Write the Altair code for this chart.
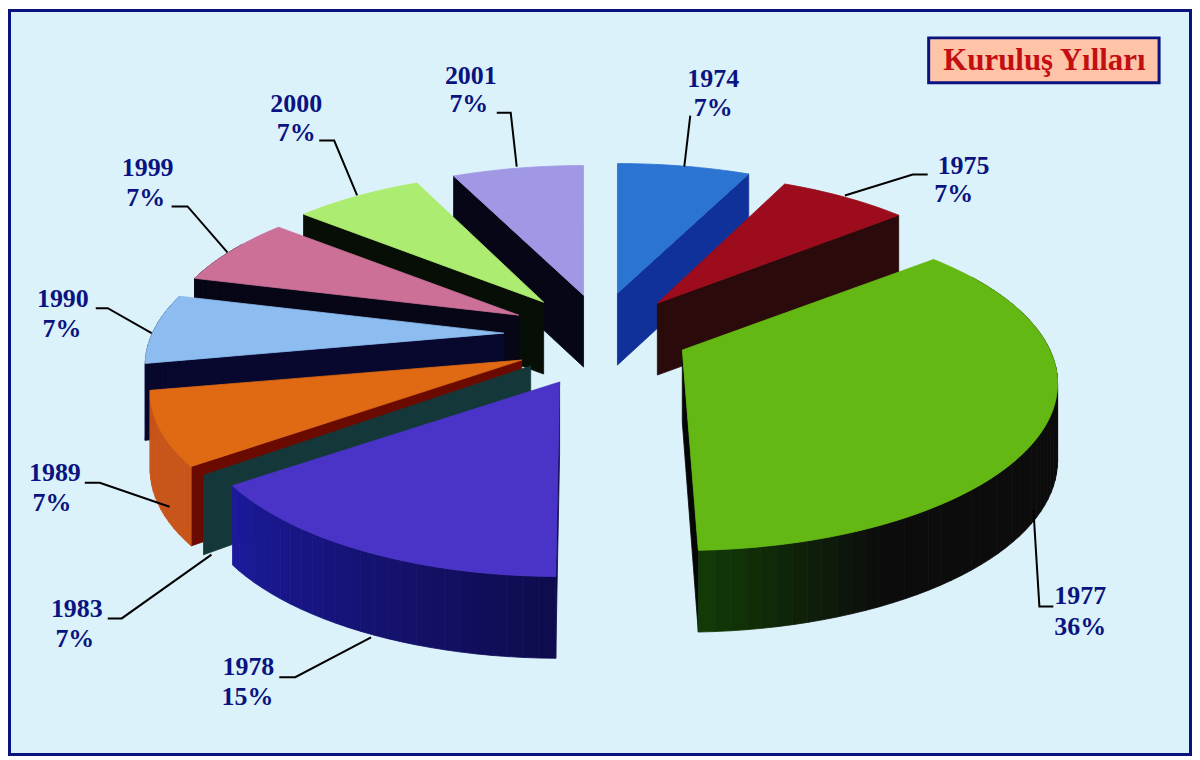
import math
import altair as alt
import pandas as pd

# ---- chart values ----
years = ["1974", "1975", "1977", "1978", "1983", "1989", "1990", "1999", "2000", "2001"]
percent_labels = ["7%", "7%", "36%", "15%", "7%", "7%", "7%", "7%", "7%", "7%"]
# share of the circle each slice really occupies in the picture (1983 is drawn as a sliver)
drawn_shares = [7, 7, 36, 15, 0, 7, 7, 7, 7, 7]

# ---- styles and layout, separate from the data ----
W, H = 1187, 749
top_colors = ["#2b74d2", "#9c0c1c", "#64b814", "#4a34c8", "#14383a",
              "#e06a14", "#8cbcf0", "#cc7098", "#acec70", "#a098e4"]
wall_colors = ["#10309a", "#2a0a0a", "#060606", "#0e0c4a", "#14383a",
               "#6a0a00", "#08082e", "#060616", "#060e06", "#060616"]
rim_start = ["#10309a", "#2a0a0a", "#0c0c0c", "#0e0c4c", "#14383a",
             "#c8561a", "#08082e", "#060616", "#060e06", "#060616"]
rim_end = ["#10309a", "#2a0a0a", "#123d06", "#1c1a9c", "#14383a",
           "#c8561a", "#08082e", "#060616", "#060e06", "#060616"]
apex = {"1974": (619, 293), "1975": (659, 303), "1977": (684, 350), "1978": (561, 382),
        "1983": (532, 366), "1989": (523, 360), "1990": (505, 333), "1999": (520, 315),
        "2000": (545, 302), "2001": (585, 295)}
# small per-slice corrections of the pie's perspective, and of the cut angles
rx_scale = {"1975": 0.97, "1977": 1.01, "1978": 0.98, "1990": 0.965, "1999": 0.965,
            "2000": 0.965, "2001": 0.99}
ry_scale = {"1977": 1.03}
start_shift = {"1978": 0.5, "1983": -2.0, "1989": -1.0}
end_shift = {"1977": -2.0, "1983": -2.0}
draw_order = ["2001", "1974", "1975", "2000", "1999", "1990", "1989", "1983", "1977", "1978"]
RX, RY, TILT = 365.0, 156.0, 0.2

label_place = {"1974": (715, 78, 715, 107), "1975": (966, 165, 956, 194),
               "1977": (1083, 597, 1083, 628), "1978": (249, 668, 248, 698),
               "1983": (77, 610, 75, 640), "1989": (55, 473, 52, 503),
               "1990": (63, 299, 62, 329), "1999": (148, 167, 146, 198),
               "2000": (297, 103, 297, 132), "2001": (472, 75, 470, 103)}
leaders = {"1974": [(692, 115), (686, 166)],
           "1975": [(930, 174), (915, 174), (847, 195)],
           "1977": [(1036, 510), (1042, 607), (1056, 607)],
           "1978": [(280, 678), (296, 678), (372, 638)],
           "1983": [(108, 619), (122, 619), (212, 555)],
           "1989": [(85, 483), (100, 483), (170, 507)],
           "1990": [(96, 308), (108, 308), (152, 333)],
           "1999": [(172, 206), (188, 206), (228, 252)],
           "2000": [(320, 140), (335, 140), (358, 195)],
           "2001": [(498, 112), (512, 112), (518, 166)]}
title_text = "Kuruluş Yılları"


def rim_point(yr, t):
    a = apex[yr]
    s, c = math.sin(math.radians(t)), math.cos(math.radians(t))
    f = 1 + TILT * c
    return (a[0] + RX * rx_scale.get(yr, 1) * s / f,
            a[1] - RY * ry_scale.get(yr, 1) * c / f)


def depth(t):
    return 76 - 6 * math.cos(math.radians(t))


def mix(c1, c2, k):
    p = [int(c1[i:i + 2], 16) for i in (1, 3, 5)]
    q = [int(c2[i:i + 2], 16) for i in (1, 3, 5)]
    return "#%02x%02x%02x" % tuple(round(u + (v - u) * k) for u, v in zip(p, q))


rows = []
poly = [0]


def add(points, fill):
    poly[0] += 1
    for i, (x, y) in enumerate(list(points) + [points[0]]):
        rows.append(dict(poly=poly[0], seq=i, x=x, y=y, fill=fill))


starts = {}
acc = 0.0
for yr, sh in zip(years, drawn_shares):
    starts[yr] = (acc + start_shift.get(yr, 0), acc + sh * 3.6 + end_shift.get(yr, 0))
    acc += sh * 3.6

for yr in draw_order:
    i = years.index(yr)
    a = apex[yr]
    t0, t1 = starts[yr]
    # radial cut face that faces the viewer
    tw = t1 if t1 <= 180 else t0
    r = rim_point(yr, tw)
    add([a, r, (r[0], r[1] + depth(tw)), (a[0], a[1] + 72)], wall_colors[i])
    # outer rim
    lo, hi = max(t0, 60), min(t1, 300)
    n = max(int((hi - lo) / 2), 1)
    if hi > lo:
        for k in range(n):
            ta, tb = lo + (hi - lo) * k / n, lo + (hi - lo) * (k + 1) / n
            pa, pb = rim_point(yr, ta), rim_point(yr, tb)
            frac = (k + 0.5) / n
            if yr == "1977":
                col = rim_start[i] if tb < 155 else mix(rim_start[i], rim_end[i], (tb - 155) / 25)
            else:
                col = mix(rim_start[i], rim_end[i], frac)
            add([pa, pb, (pb[0], pb[1] + depth(tb)), (pa[0], pa[1] + depth(ta))], col)
    # top face
    if t1 > t0:
        n = max(int((t1 - t0) / 1.5), 1)
        add([a] + [rim_point(yr, t0 + (t1 - t0) * k / n) for k in range(n + 1)], top_colors[i])

faces = pd.DataFrame(rows)

xs = alt.Scale(domain=[8, 8 + W], range=[0, W])
ys = alt.Scale(domain=[8, 8 + H], range=[0, H])
X = lambda f="x": alt.X(f"{f}:Q", scale=xs, axis=None)
Y = lambda f="y": alt.Y(f"{f}:Q", scale=ys, axis=None)

frame = alt.Chart(pd.DataFrame([dict(x=9.5, x2=6.5 + W, y=9.5, y2=6.5 + H)])).mark_rect(
    fill="#ffffff", fillOpacity=0, stroke="#0a1480", strokeWidth=3).encode(
    x=X(), x2="x2:Q", y=Y(), y2="y2:Q")

pie = alt.Chart(faces).mark_line(filled=True, strokeWidth=0.8, interpolate="linear").encode(
    x=X(), y=Y(), detail="poly:N", order="seq:Q",
    color=alt.Color("fill:N", scale=None),
    stroke=alt.Stroke("fill:N", scale=None),
)

lead_df = pd.DataFrame([dict(year=k, seq=j, x=p[0], y=p[1])
                        for k, pts in leaders.items() for j, p in enumerate(pts)])
lead = alt.Chart(lead_df).mark_line(color="#000000", strokeWidth=2).encode(
    x=X(), y=Y(), detail="year:N", order="seq:Q")

lab_rows = []
for yr, pct in zip(years, percent_labels):
    x1, y1, x2, y2 = label_place[yr]
    lab_rows.append(dict(text=yr, x=x1, y=y1))
    lab_rows.append(dict(text=pct, x=x2, y=y2))
labels = alt.Chart(pd.DataFrame(lab_rows)).mark_text(
    font="Liberation Serif", fontWeight="bold", fontSize=26, color="#0a1480",
    align="center", baseline="middle").encode(x=X(), y=Y(), text="text:N")

box_df = pd.DataFrame([dict(x=931, x2=1162, y=37, y2=82)])
box = alt.Chart(box_df).mark_rect(fill="#ffc4a8", stroke="#0a1480", strokeWidth=3).encode(
    x=X(), x2="x2:Q", y=Y(), y2="y2:Q")
title = alt.Chart(pd.DataFrame([dict(x=1047, y=60, text=title_text)])).mark_text(
    font="Liberation Serif", fontWeight="bold", fontSize=31, color="#c40f12",
    align="center", baseline="middle").encode(x=X(), y=Y(), text="text:N")

chart = (frame + pie + lead + labels + box + title).properties(
    width=W, height=H, padding=0, background="#ffffff",
    autosize=alt.AutoSizeParams(type="none")
).configure_view(fill="#dcf2fb", stroke=None)

chart.save("out.html", embed_options={"renderer": "svg", "actions": False})
